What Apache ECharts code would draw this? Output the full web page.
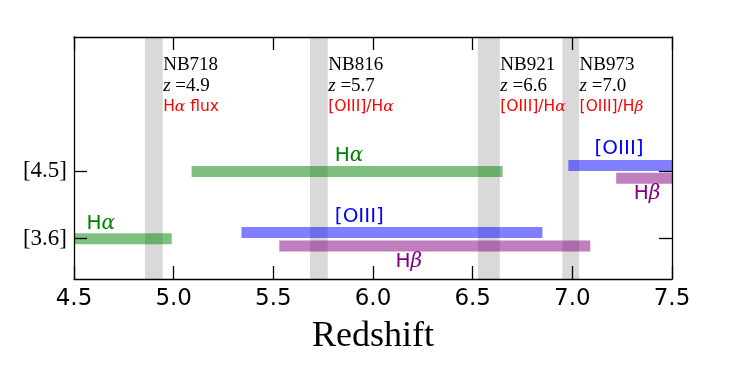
<!DOCTYPE html>
<html>
<head>
<meta charset="utf-8">
<script src="https://cdn.jsdelivr.net/npm/echarts@6/dist/echarts.min.js"></script>
<style>
html, body { margin: 0; padding: 0; background: #fff; }
#main { width: 747px; height: 374px; }
</style>
</head>
<body>
<div id="main"></div>
<script>
var xMin = 4.5, xMax = 7.5, xStep = 0.5;
var yMin = 0, yMax = 3.6;
var xTickValues = [4.5, 5.0, 5.5, 6.0, 6.5, 7.0, 7.5];
var xTickLabels = ['4.5', '5.0', '5.5', '6.0', '6.5', '7.0', '7.5'];

// narrow-band filters: redshift window of each one
var filterNames = ['NB718', 'NB816', 'NB921', 'NB973'];
var filterRedshift = ['4.9', '5.7', '6.6', '7.0'];
var filterUse = ['Hα flux', '[OIII]/Hα', '[OIII]/Hα', '[OIII]/Hβ'];
var filterRanges = [[4.856, 4.945], [5.684, 5.773], [6.526, 6.636], [6.95, 7.034]];

// IRAC channels on the y axis
var channelNames = ['[3.6]', '[4.5]'];
var channelLevels = [0.6, 1.6];

// emission line coverage, order Ha, [OIII], Hb
var lineNames = ['Hα', '[OIII]', 'Hβ'];
var lineColors = ['#008000', '#0000ff', '#800080'];
var lineFills = ['rgba(0,128,0,0.5)', 'rgba(0,0,255,0.5)', 'rgba(128,0,128,0.5)'];
var cover36 = [[4.5, 4.99], [5.34, 6.85], [5.53, 7.09]];
var cover45 = [[5.09, 6.65], [6.98, 7.5], [7.22, 7.5]];
var level36 = [0.6, 0.69, 0.49];
var level45 = [1.6, 1.69, 1.5];
var label36 = [[4.56, 0.82], [5.806, 0.927], [6.11, 0.257]];
var label45 = [[5.806, 1.835], [7.109, 1.94], [7.306, 1.27]];

// rows of filter notes above the bars
var noteLevels = [3.19, 2.875, 2.556];

// greek letters go in italic serif, like tex math
function mathText(s, key) {
    var out = '', buf = '';
    for (var i = 0; i < s.length; i++) {
        var ch = s[i];
        if (ch === 'α' || ch === 'β') {
            if (buf) out += '{' + key + '|' + buf + '}';
            buf = '';
            out += '{' + key + 'G|' + ch + '}';
        } else {
            buf += ch;
        }
    }
    if (buf) out += '{' + key + '|' + buf + '}';
    return out;
}

var bars = [];
for (var i = 0; i < lineNames.length; i++) {
    bars.push([cover36[i][0], cover36[i][1], level36[i], i]);
    bars.push([cover45[i][0], cover45[i][1], level45[i], i]);
}

var notes = [];
for (var i = 0; i < filterNames.length; i++) {
    var x = filterRanges[i][1];
    notes.push({value: [x, noteLevels[0]], label: {formatter: '{nb|' + filterNames[i] + '}'}});
    notes.push({value: [x, noteLevels[1]], label: {formatter: '{zi|z}{nb| =' + filterRedshift[i] + '}'}});
    notes.push({value: [x, noteLevels[2]], label: {formatter: mathText(filterUse[i], 'red')}});
}
for (var i = 0; i < lineNames.length; i++) {
    notes.push({value: label36[i], label: {formatter: mathText(lineNames[i], 'l' + i)}});
    notes.push({value: label45[i], label: {formatter: mathText(lineNames[i], 'l' + i)}});
}

var rich = {
    nb: {fontFamily: 'Liberation Serif', fontSize: 19, color: '#000'},
    zi: {fontFamily: 'Liberation Serif', fontStyle: 'italic', fontSize: 19, color: '#000'},
    red: {fontFamily: 'DejaVu Sans', fontSize: 15.5, color: '#ff0000'},
    redG: {fontFamily: 'DejaVu Serif', fontStyle: 'italic', fontSize: 15.5, color: '#ff0000'}
};
for (var i = 0; i < lineNames.length; i++) {
    rich['l' + i] = {fontFamily: 'DejaVu Sans', fontSize: 20, color: lineColors[i]};
    rich['l' + i + 'G'] = {fontFamily: 'DejaVu Serif', fontStyle: 'italic', fontSize: 20, color: lineColors[i]};
}

var axisLine = {onZero: false, lineStyle: {color: '#000', width: 1.3}};
var tick = {inside: true, length: 13, lineStyle: {color: '#000', width: 1.3}};

var chart = echarts.init(document.getElementById('main'));
chart.setOption({
    backgroundColor: '#fff',
    animation: false,
    grid: {left: 74, right: 75, top: 37, bottom: 95, outerBoundsMode: 'none'},
    xAxis: [{
        type: 'value', min: xMin, max: xMax, interval: xStep, position: 'bottom', z: 10,
        axisLine: axisLine,
        axisTick: tick,
        splitLine: {show: false},
        axisLabel: {
            fontFamily: 'DejaVu Sans', fontSize: 23, color: '#000', margin: 9,
            showMinLabel: true, showMaxLabel: true,
            formatter: function (v) {
                var k = xTickValues.indexOf(Math.round(v * 10) / 10);
                return k < 0 ? '' : xTickLabels[k];
            }
        },
        name: 'Redshift', nameLocation: 'middle', nameGap: 40,
        nameTextStyle: {fontFamily: 'Liberation Serif', fontSize: 36, color: '#000'}
    }, {
        type: 'value', min: xMin, max: xMax, interval: xStep, position: 'top', z: 10,
        axisLine: axisLine,
        axisTick: tick,
        splitLine: {show: false},
        axisLabel: {show: false}
    }],
    yAxis: [{
        type: 'value', min: yMin, max: yMax, position: 'left', z: 10,
        axisLine: axisLine,
        axisTick: {inside: true, length: 13, lineStyle: {color: '#000', width: 1.3}, customValues: channelLevels},
        splitLine: {show: false},
        axisLabel: {
            customValues: channelLevels,
            fontFamily: 'Liberation Serif', fontSize: 23, color: '#000', margin: 7,
            formatter: function (v) {
                return channelNames[channelLevels.indexOf(v)];
            }
        }
    }, {
        type: 'value', min: yMin, max: yMax, position: 'right', z: 10,
        axisLine: axisLine,
        axisTick: {inside: true, length: 13, lineStyle: {color: '#000', width: 1.3}, customValues: channelLevels},
        splitLine: {show: false},
        axisLabel: {show: false}
    }],
    series: [{
        // filter windows
        type: 'custom', z: 1, silent: true,
        data: filterRanges.map(function (r) { return [r[0], r[1], yMin]; }),
        encode: {x: [0, 1], y: 2},
        renderItem: function (params, api) {
            var p0 = api.coord([api.value(0), yMax]);
            var p1 = api.coord([api.value(1), yMin]);
            return {
                type: 'rect',
                shape: {x: p0[0], y: p0[1], width: p1[0] - p0[0], height: p1[1] - p0[1]},
                style: {fill: '#d9d9d9'}
            };
        }
    }, {
        // line coverage bars
        type: 'custom', z: 2, silent: true,
        data: bars,
        encode: {x: [0, 1], y: 2},
        renderItem: function (params, api) {
            var p0 = api.coord([api.value(0), api.value(2)]);
            var p1 = api.coord([api.value(1), api.value(2)]);
            return {
                type: 'rect',
                shape: {x: p0[0], y: p0[1] - 5.5, width: p1[0] - p0[0], height: 11},
                style: {fill: lineFills[api.value(3)]}
            };
        }
    }, {
        type: 'scatter', z: 3, silent: true,
        symbolSize: 1,
        itemStyle: {color: 'rgba(0,0,0,0)', opacity: 1},
        label: {show: true, position: 'right', distance: 0, rich: rich},
        data: notes
    }]
});
</script>
</body>
</html>
